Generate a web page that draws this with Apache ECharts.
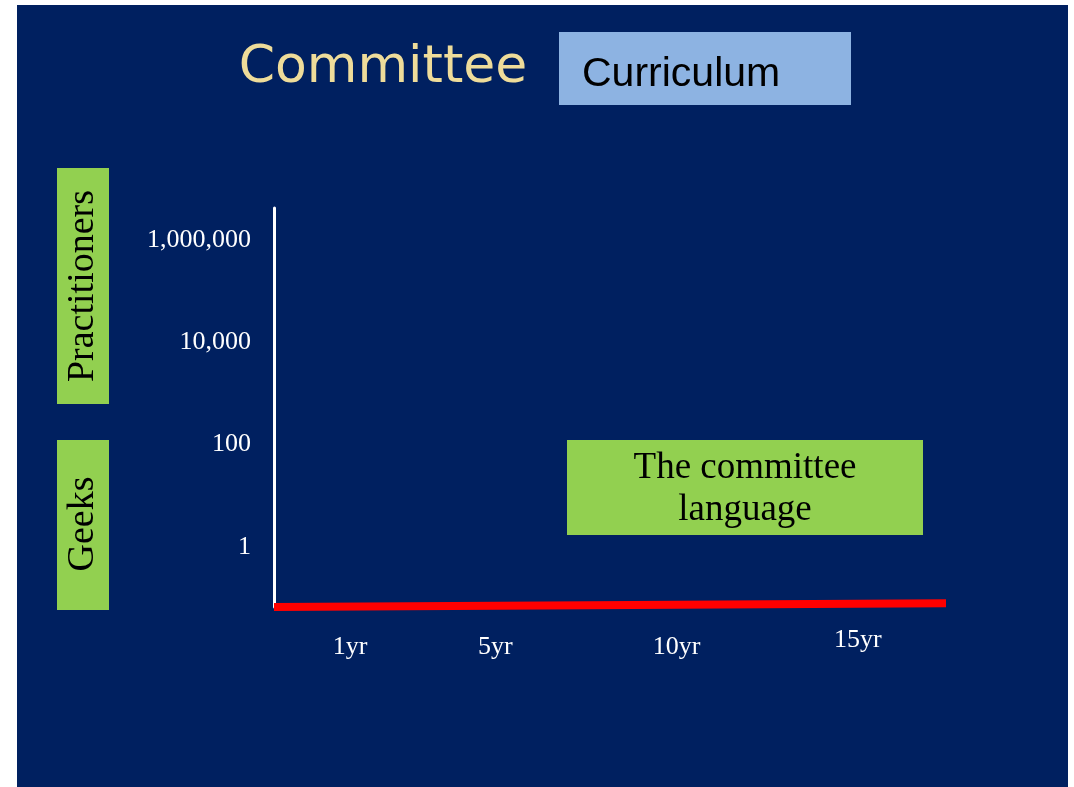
<!DOCTYPE html>
<html>
<head>
<meta charset="utf-8">
<title>Committee - Curriculum</title>
<script src="https://cdn.jsdelivr.net/npm/echarts@6/dist/echarts.min.js"></script>
<style>
    html, body { margin: 0; padding: 0; background: #ffffff; }
    #chart_committee {
        position: absolute;
        left: 17px;
        top: 5px;
        width: 1051px;
        height: 782px;
    }
</style>
</head>
<body>
<div id="chart_committee"></div>
<script>
// x axis: years
var xTickYears = [1, 5, 10, 15];
var xTickLabels = ['1yr', '5yr', '10yr', '15yr'];
// y axis: practitioners (log scale)
var yTickValues = [1, 100, 10000, 1000000];
var yTickLabels = ['1', '100', '10,000', '1,000,000'];
// the red line (committee language adoption)
var lineYears = [-1.1, 17.43];
var lineValues = [0.0671, 0.079];

var myChart = echarts.init(document.getElementById('chart_committee'));

var serif = '"Liberation Serif", "Times New Roman", serif';

option = {
    backgroundColor: '#002060',
    animation: false,
    grid: {
        left: 257,
        right: 122,
        top: 203,
        bottom: 180
    },
    xAxis: {
        type: 'value',
        min: lineYears[0],
        max: lineYears[1],
        axisLine: {show: false},
        axisTick: {show: false},
        splitLine: {show: false},
        axisLabel: {
            customValues: xTickYears,
            margin: 20,
            color: '#ffffff',
            fontFamily: serif,
            fontSize: 26,
            formatter: function (v) {
                var i = xTickYears.indexOf(v);
                var txt = i >= 0 ? xTickLabels[i] : '';
                // the last label sits a bit higher in the slide
                return v === 15 ? txt : '{dn|' + txt + '}';
            },
            rich: {
                dn: {
                    color: '#ffffff',
                    fontFamily: serif,
                    fontSize: 26,
                    padding: [7, 0, 0, 0]
                }
            }
        }
    },
    yAxis: {
        type: 'log',
        logBase: 100,
        min: 0.0671,
        max: 4.22e6,
        axisLine: {show: true, onZero: false, lineStyle: {color: '#ffffff', width: 3}},
        axisTick: {show: false},
        splitLine: {show: false},
        axisLabel: {
            customValues: yTickValues,
            margin: 23,
            color: '#ffffff',
            fontFamily: serif,
            fontSize: 26,
            formatter: function (v) {
                var e = Math.round(Math.log(v) / Math.LN10);
                for (var i = 0; i < yTickValues.length; i++) {
                    if (Math.round(Math.log(yTickValues[i]) / Math.LN10) === e) {
                        return yTickLabels[i];
                    }
                }
                return '';
            }
        }
    },
    series: [
        {
            name: 'The committee language',
            type: 'line',
            symbol: 'none',
            clip: false,
            lineStyle: {color: '#ff0000', width: 8, cap: 'butt'},
            data: lineYears.map(function (x, i) {
                return [x, lineValues[i]];
            })
        }
    ],
    graphic: [
        {
            type: 'text',
            x: 366,
            y: 63,
            style: {
                text: 'Committee',
                font: '52px "DejaVu Sans", sans-serif',
                fill: '#eedc9a',
                align: 'center',
                verticalAlign: 'middle',
                shadowColor: 'rgba(0,0,0,0.8)',
                shadowBlur: 6,
                shadowOffsetX: 4,
                shadowOffsetY: 5
            }
        },
        {
            type: 'rect',
            shape: {x: 542, y: 27, width: 292, height: 73},
            style: {fill: '#8db3e2'}
        },
        {
            type: 'text',
            x: 565,
            y: 70,
            style: {
                text: 'Curriculum',
                font: '41px "Liberation Sans", Arial, sans-serif',
                fill: '#000000',
                align: 'left',
                verticalAlign: 'middle'
            }
        },
        {
            type: 'rect',
            shape: {x: 40, y: 163, width: 52, height: 236},
            style: {fill: '#92d050'}
        },
        {
            type: 'text',
            x: 66,
            y: 281,
            rotation: Math.PI / 2,
            style: {
                text: 'Practitioners',
                font: '38px ' + serif,
                fill: '#000000',
                align: 'center',
                verticalAlign: 'middle'
            }
        },
        {
            type: 'rect',
            shape: {x: 40, y: 435, width: 52, height: 170},
            style: {fill: '#92d050'}
        },
        {
            type: 'text',
            x: 66,
            y: 519,
            rotation: Math.PI / 2,
            style: {
                text: 'Geeks',
                font: '38px ' + serif,
                fill: '#000000',
                align: 'center',
                verticalAlign: 'middle'
            }
        },
        {
            type: 'rect',
            shape: {x: 550, y: 435, width: 356, height: 95},
            style: {fill: '#92d050'}
        },
        {
            type: 'text',
            x: 728,
            y: 484,
            style: {
                text: 'The committee\nlanguage',
                font: '37px ' + serif,
                lineHeight: 42,
                fill: '#000000',
                align: 'center',
                verticalAlign: 'middle'
            }
        }
    ]
};

myChart.setOption(option);

window.addEventListener('resize', function () {
    myChart.resize();
});
</script>
</body>
</html>
